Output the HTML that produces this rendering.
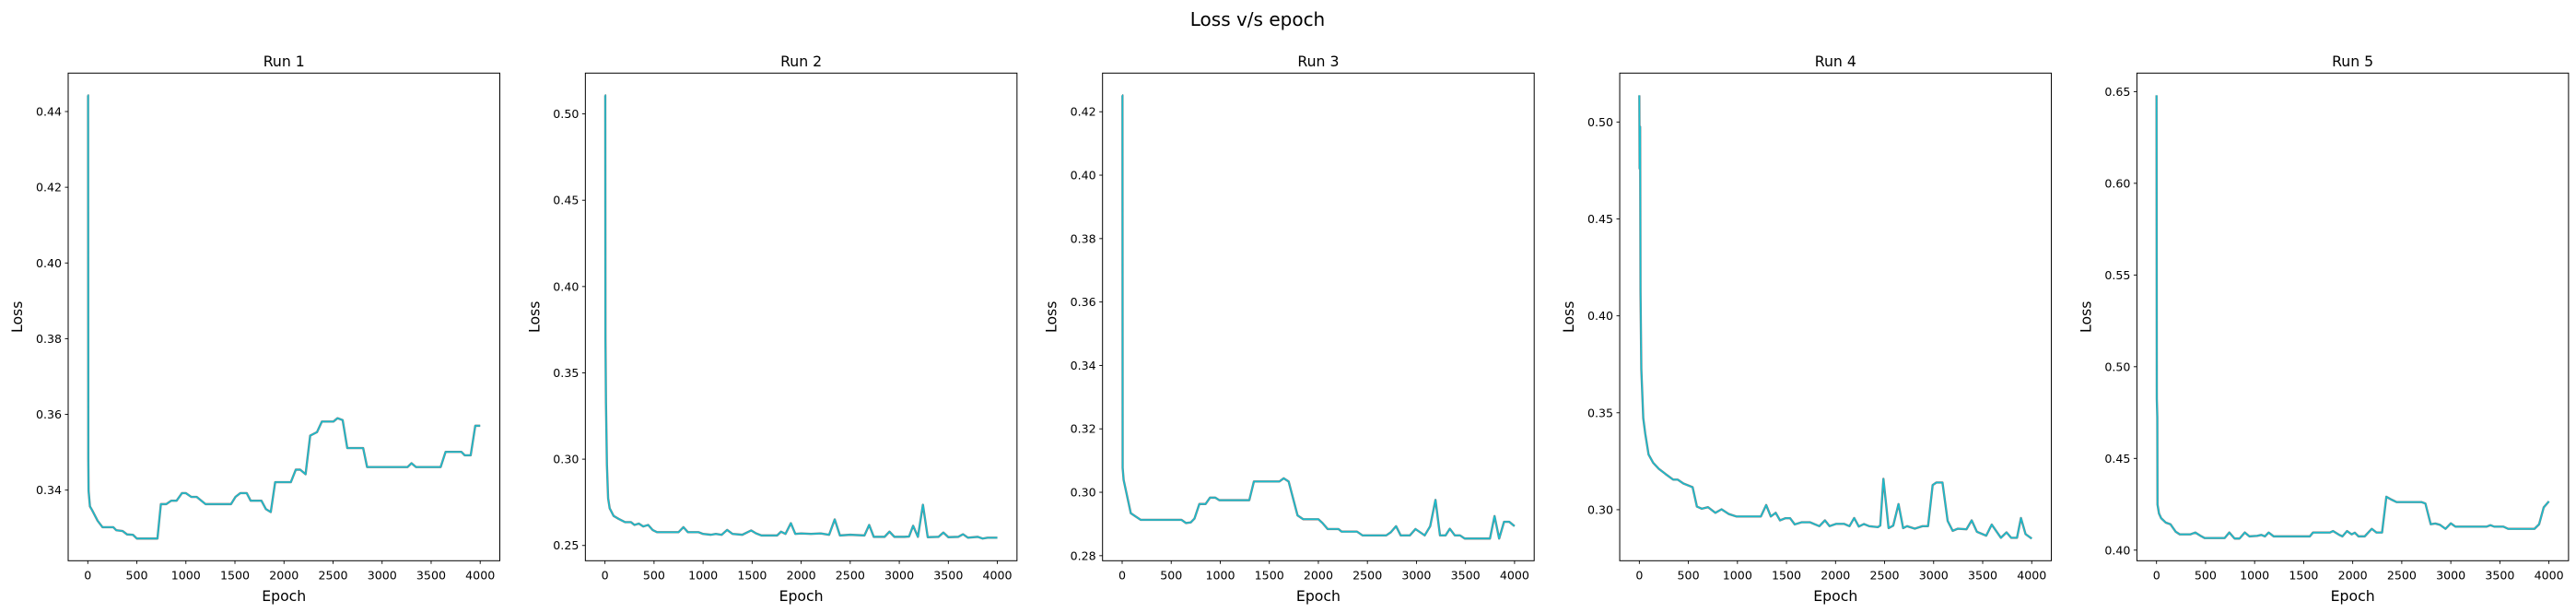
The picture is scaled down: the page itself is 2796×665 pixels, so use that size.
<!DOCTYPE html>
<html><head><meta charset="utf-8">
<style>
html,body{margin:0;padding:0;background:#fff;}
svg{display:block;font-family:"DejaVu Sans","Liberation Sans",sans-serif;}
</style></head>
<body>
<svg id="fig" width="2796" height="665" viewBox="0 0 2796 665" xmlns="http://www.w3.org/2000/svg">
<rect x="0" y="0" width="2796" height="665" fill="#fff"/>
<text x="1365" y="28" font-size="20" text-anchor="middle" fill="#000">Loss v/s epoch</text>
</svg>
<script>
// ----- data -----
const xTicks = [0,500,1000,1500,2000,2500,3000,3500,4000];
const runTitles = ["Run 1","Run 2","Run 3","Run 4","Run 5"];

const epochs1 = [0,3,5,8,22,44,100,150,260,290,355,400,460,500,710,745,800,850,905,960,1000,1055,1110,1200,1460,1505,1555,1620,1660,1770,1815,1865,1910,2070,2120,2165,2220,2267,2336,2386,2504,2545,2598,2645,2807,2847,3260,3300,3345,3597,3647,3808,3842,3903,3950,4000];
const loss1   = [0.4443,0.4443,0.3483,0.3398,0.3357,0.3347,0.3319,0.3302,0.3302,0.3294,0.3292,0.3283,0.3282,0.3272,0.3272,0.3363,0.3363,0.3372,0.3372,0.3392,0.3392,0.3382,0.3382,0.3363,0.3363,0.3382,0.3392,0.3392,0.3372,0.3372,0.3350,0.3342,0.3421,0.3421,0.3454,0.3454,0.3442,0.3544,0.3553,0.3581,0.3581,0.3590,0.3585,0.3511,0.3511,0.3461,0.3461,0.3471,0.3461,0.3461,0.3501,0.3501,0.3492,0.3492,0.3570,0.3570];
const yTicks1 = [0.34,0.36,0.38,0.40,0.42,0.44];

const epochs2 = [0,3,5,10,20,32,48,88,140,205,265,300,345,390,440,485,530,750,800,845,955,1000,1080,1130,1190,1245,1300,1400,1490,1540,1595,1755,1795,1840,1895,1940,2000,2100,2200,2285,2342,2395,2500,2645,2693,2740,2850,2900,2950,3050,3100,3141,3190,3241,3290,3400,3450,3500,3600,3650,3700,3800,3850,3900,4000];
const loss2   = [0.5108,0.5108,0.3700,0.3330,0.2965,0.2773,0.2715,0.2671,0.2654,0.2635,0.2635,0.2619,0.2627,0.2610,0.2619,0.2590,0.2577,0.2577,0.2606,0.2577,0.2577,0.2567,0.2562,0.2567,0.2562,0.2590,0.2567,0.2562,0.2587,0.2570,0.2558,0.2558,0.2580,0.2567,0.2629,0.2567,0.2570,0.2567,0.2570,0.2562,0.2651,0.2558,0.2562,0.2558,0.2619,0.2550,0.2550,0.2580,0.2550,0.2550,0.2552,0.2614,0.2550,0.2736,0.2548,0.2550,0.2575,0.2548,0.2550,0.2565,0.2545,0.2550,0.2540,0.2545,0.2545];
const yTicks2 = [0.25,0.30,0.35,0.40,0.45,0.50];

const epochs3 = [0,3,5,15,88,135,190,605,650,700,737,787,850,895,950,990,1296,1343,1603,1647,1697,1788,1845,2000,2042,2095,2205,2237,2394,2450,2692,2739,2792,2839,2933,2990,3084,3140,3194,3240,3297,3340,3391,3444,3492,3749,3796,3843,3893,3946,4000];
const loss3   = [0.4252,0.4252,0.3077,0.3039,0.2934,0.2924,0.2913,0.2913,0.2903,0.2905,0.2917,0.2963,0.2963,0.2983,0.2983,0.2975,0.2975,0.3034,0.3034,0.3044,0.3034,0.2927,0.2915,0.2915,0.2903,0.2884,0.2884,0.2876,0.2876,0.2864,0.2864,0.2874,0.2893,0.2864,0.2864,0.2884,0.2864,0.2893,0.2976,0.2864,0.2864,0.2885,0.2864,0.2864,0.2854,0.2854,0.2925,0.2854,0.2907,0.2907,0.2893];
const yTicks3 = [0.28,0.30,0.32,0.34,0.36,0.38,0.40,0.42];

const epochs4 = [0,3,8,12,20,40,60,94,141,198,267,345,392,449,543,587,637,700,775,838,910,988,1239,1293,1340,1390,1434,1490,1537,1584,1653,1741,1835,1892,1939,2008,2086,2142,2190,2237,2290,2343,2431,2456,2488,2541,2588,2642,2689,2729,2808,2886,2943,2990,3027,3090,3143,3194,3247,3335,3388,3441,3536,3592,3686,3743,3790,3850,3890,3937,4000];
const loss4   = [0.5138,0.4760,0.4976,0.4121,0.3725,0.3472,0.3393,0.3285,0.3242,0.3211,0.3184,0.3155,0.3155,0.3135,0.3116,0.3016,0.3005,0.3013,0.2984,0.3002,0.2978,0.2965,0.2965,0.3024,0.2965,0.2984,0.2945,0.2956,0.2956,0.2924,0.2935,0.2935,0.2915,0.2945,0.2915,0.2927,0.2927,0.2915,0.2957,0.2913,0.2926,0.2915,0.2910,0.2918,0.3159,0.2905,0.2918,0.3029,0.2905,0.2915,0.2902,0.2915,0.2915,0.3127,0.3140,0.3140,0.2942,0.2891,0.2902,0.2899,0.2945,0.2886,0.2866,0.2923,0.2855,0.2883,0.2855,0.2855,0.2957,0.2874,0.2851];
const yTicks4 = [0.30,0.35,0.40,0.45,0.50];

const epochs5 = [0,3,8,10,25,47,95,142,196,237,347,395,458,490,695,742,796,846,900,947,1026,1067,1105,1143,1194,1563,1595,1768,1800,1863,1895,1942,1989,2021,2059,2122,2194,2242,2299,2343,2400,2447,2700,2741,2795,2842,2889,2946,3000,3047,3363,3404,3442,3536,3584,3852,3900,3947,4000];
const loss5   = [0.6480,0.4825,0.4724,0.4249,0.4200,0.4174,0.4150,0.4141,0.4100,0.4086,0.4086,0.4096,0.4075,0.4066,0.4066,0.4096,0.4063,0.4063,0.4096,0.4075,0.4078,0.4083,0.4075,0.4096,0.4075,0.4075,0.4096,0.4096,0.4104,0.4083,0.4075,0.4104,0.4086,0.4095,0.4075,0.4075,0.4116,0.4096,0.4096,0.4291,0.4274,0.4262,0.4262,0.4254,0.4141,0.4145,0.4138,0.4116,0.4146,0.4128,0.4128,0.4136,0.4128,0.4128,0.4116,0.4116,0.4141,0.4233,0.4266];
const yTicks5 = [0.40,0.45,0.50,0.55,0.60,0.65];

const allEpochs = [epochs1,epochs2,epochs3,epochs4,epochs5];
const allLoss = [loss1,loss2,loss3,loss4,loss5];
const allYTicks = [yTicks1,yTicks2,yTicks3,yTicks4,yTicks5];

// ----- layout -----
const NS = "http://www.w3.org/2000/svg";
const svg = document.getElementById("fig");
const axLeft0 = 74, axPitch = 561.35, axW = 468.5, axTop = 79.3, axBot = 608.3;
const tickFont = 12.6, labelFont = 15.7;

function mk(tag, attrs, parent){
  const e = document.createElementNS(NS, tag);
  for (const k in attrs) e.setAttribute(k, attrs[k]);
  (parent||svg).appendChild(e);
  return e;
}

for (let r = 0; r < 5; r++) {
  const ep = allEpochs[r], ls = allLoss[r], yt = allYTicks[r];
  const L = axLeft0 + r*axPitch, R = L + axW;
  const xmin0 = Math.min(...ep), xmax0 = Math.max(...ep), xr = xmax0 - xmin0;
  const xlo = xmin0 - 0.05*xr, xhi = xmax0 + 0.05*xr;
  const ymin0 = Math.min(...ls), ymax0 = Math.max(...ls), yr = ymax0 - ymin0;
  const ylo = ymin0 - 0.05*yr, yhi = ymax0 + 0.05*yr;
  const sx = v => L + (v - xlo)/(xhi - xlo)*axW;
  const sy = v => axBot - (v - ylo)/(yhi - ylo)*(axBot - axTop);

  const g = mk("g", {});
  
  

  const title = mk("text", {x:(L+R)/2, y:72, "font-size":labelFont, "text-anchor":"middle", fill:"#000"}, g);
  title.textContent = runTitles[r];
  
  

  let d = "";
  for (let i = 0; i < ep.length; i++) d += (i ? "L" : "M") + sx(ep[i]).toFixed(2) + " " + sy(ls[i]).toFixed(2);
  const under = mk("path", {d:d, fill:"none", stroke:"#7f7f7f", "stroke-width":2.4, "stroke-linejoin":"round"}, g);
  
  
  const line = mk("path", {d:d, fill:"none", stroke:"#17becf", "stroke-width":1.5, "stroke-linejoin":"round"}, g);
  
  

  const frame = mk("rect", {x:L, y:axTop, width:axW, height:axBot-axTop, fill:"none", stroke:"#000", "stroke-width":1}, g);
  
  

  for (const t of xTicks) {
    const x = sx(t);
    const tk = mk("line", {x1:x, x2:x, y1:axBot, y2:axBot+3.5, stroke:"#000", "stroke-width":0.9}, g);
    
    
    const tl = mk("text", {x:x, y:628.5, "font-size":tickFont, "text-anchor":"middle", fill:"#000"}, g);
    tl.textContent = String(t);
    
    
  }
  for (const t of yt) {
    const y = sy(t);
    const tk = mk("line", {x1:L-3.5, x2:L, y1:y, y2:y, stroke:"#000", "stroke-width":0.9}, g);
    
    
    const tl = mk("text", {x:L-7, y:y+4.5, "font-size":tickFont, "text-anchor":"end", fill:"#000"}, g);
    tl.textContent = t.toFixed(2);
    
    
  }
  const xl = mk("text", {x:(L+R)/2, y:652, "font-size":labelFont, "text-anchor":"middle", fill:"#000"}, g);
  xl.textContent = "Epoch";
  
  
  const yx = L - 50, yy = (axTop+axBot)/2;
  const yl = mk("text", {x:yx, y:yy, "font-size":labelFont, "text-anchor":"middle", fill:"#000", transform:"rotate(-90 "+yx+" "+yy+")"}, g);
  yl.textContent = "Loss";
  
  
}
</script>
</body></html>
